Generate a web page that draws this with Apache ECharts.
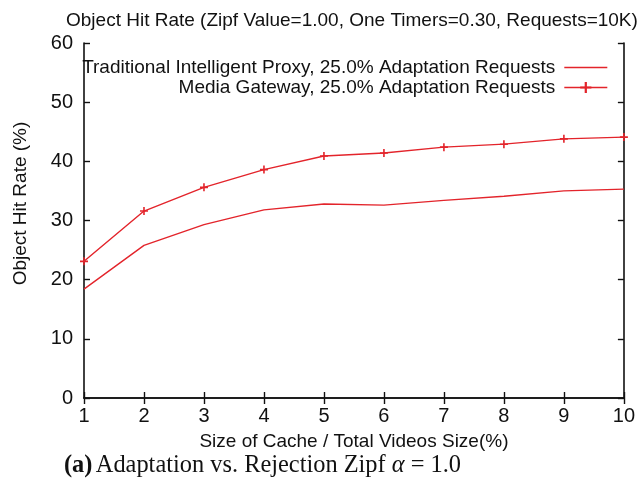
<!DOCTYPE html>
<html><head><meta charset="utf-8">
<script src="https://cdn.jsdelivr.net/npm/echarts@6/dist/echarts.min.js"></script>
<style>html,body{margin:0;padding:0;background:#fff}#c{width:638px;height:492px}</style>
</head><body><div id="c"></div>
<script>
const cacheSizes = [1,2,3,4,5,6,7,8,9,10];
const traditionalProxy = [18.4,25.8,29.3,31.8,32.8,32.6,33.4,34.1,35.0,35.3];
const mediaGateway = [23.1,31.6,35.6,38.6,40.9,41.4,42.4,42.9,43.8,44.1];
const seriesNames = ['Traditional Intelligent Proxy, 25.0% Adaptation Requests','Media Gateway, 25.0% Adaptation Requests'];
const titleText = 'Object Hit Rate (Zipf Value=1.00, One Timers=0.30, Requests=10K)';
const xName = 'Size of Cache / Total Videos Size(%)';
const yName = 'Object Hit Rate (%)';

const red = '#e3242b';
const font = 'Liberation Sans, Arial, Helvetica, sans-serif';
const serif = 'Liberation Serif, Times New Roman, serif';
const plus = 'path://M4,0h2v4h4v2h-4v4h-2v-4h-4v-2h4z';
const axisCommon = {
  axisLine:{show:true,lineStyle:{color:'#111',width:1.6}},
  axisTick:{show:true,inside:true,length:6,lineStyle:{color:'#111',width:1.4}},
  splitLine:{show:false}
};
const chart = echarts.init(document.getElementById('c'),null,{renderer:'canvas'});
chart.setOption({
  animation:false,
  backgroundColor:'#fff',
  title:{text:titleText,left:61,top:6,textStyle:{fontFamily:font,fontSize:19,fontWeight:'normal',color:'#111'}},
  grid:{left:84,right:11,top:43,bottom:94},
  legend:{orient:'vertical',right:25,top:53,align:'right',itemWidth:43,itemHeight:14,itemGap:1,
    lineStyle:{width:1.4},
    textStyle:{fontFamily:font,fontSize:19,color:'#111',padding:[0,4,0,0]},
    data:[{name:seriesNames[0],itemStyle:{color:'rgba(0,0,0,0)',borderColor:'rgba(0,0,0,0)',borderWidth:0},lineStyle:{color:red,width:1.4}},
          {name:seriesNames[1],lineStyle:{color:red,width:1.4}}]},
  xAxis:[
    Object.assign({type:'value',min:1,max:10,interval:1,position:'bottom',
      name:xName,nameLocation:'middle',nameGap:34,
      nameTextStyle:{fontFamily:font,fontSize:19,color:'#111'},
      axisLabel:{fontFamily:font,fontSize:20,color:'#111',margin:8}},axisCommon),
    Object.assign({type:'value',min:1,max:10,interval:1,position:'top',axisLabel:{show:false}},axisCommon)
  ],
  yAxis:[
    Object.assign({type:'value',min:0,max:60,interval:10,position:'left',
      name:yName,nameLocation:'middle',nameGap:54,
      nameTextStyle:{fontFamily:font,fontSize:19,color:'#111',padding:[0,0,0,34]},
      axisLabel:{fontFamily:font,fontSize:20,color:'#111',margin:11}},axisCommon),
    Object.assign({type:'value',min:0,max:60,interval:10,position:'right',axisLabel:{show:false}},axisCommon)
  ],
  series:[
    {name:seriesNames[0],type:'line',data:cacheSizes.map((x,i)=>[x,traditionalProxy[i]]),
      symbol:'none',lineStyle:{color:red,width:1.4},itemStyle:{color:red}},
    {name:seriesNames[1],type:'line',data:cacheSizes.map((x,i)=>[x,mediaGateway[i]]),
      symbol:plus,symbolSize:8,showSymbol:true,lineStyle:{color:red,width:1.4},itemStyle:{color:red}}
  ],
  graphic:[{type:'text',left:64,top:454,style:{
    rich:{b:{fontFamily:serif,fontSize:24.4,fontWeight:'bold',fill:'#111'},
          n:{fontFamily:serif,fontSize:24.4,fill:'#111'},
          i:{fontFamily:serif,fontSize:24.4,fontStyle:'italic',fill:'#111'}},
    text:'{b|(a)} {n|Adaptation vs. Rejection Zipf }{i|α}{n| = 1.0}'}}]
});
</script></body></html>
